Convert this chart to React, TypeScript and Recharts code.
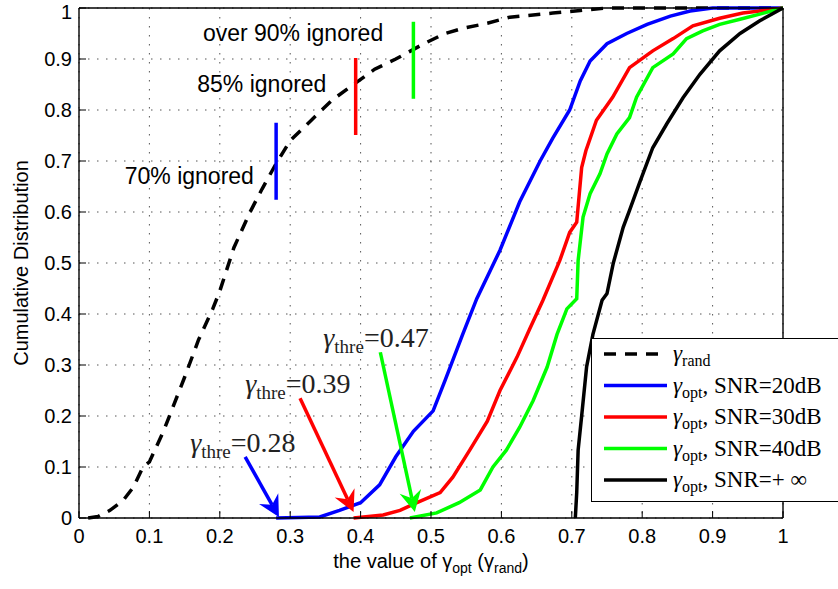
import React from 'react'
import {
  LineChart,
  Line,
  XAxis,
  YAxis,
  CartesianGrid,
  ReferenceLine,
  ReferenceDot,
  Legend,
} from 'recharts'

const SANS = '"Liberation Sans", Arial, Helvetica, sans-serif'
const SERIF = '"Liberation Serif", "Times New Roman", serif'

const xTicks = [0, 0.1, 0.2, 0.3, 0.4, 0.5, 0.6, 0.7, 0.8, 0.9, 1]
const yTicks = [0, 0.1, 0.2, 0.3, 0.4, 0.5, 0.6, 0.7, 0.8, 0.9, 1]

// gamma_rand (dashed)
const randX = [0.013, 0.027, 0.044, 0.063, 0.077, 0.091, 0.1, 0.12, 0.15, 0.17, 0.19, 0.2, 0.22, 0.243, 0.26, 0.28, 0.3, 0.33, 0.36, 0.39, 0.42, 0.45, 0.47, 0.49, 0.52, 0.545, 0.58, 0.612, 0.673, 0.712, 0.75, 1]
const randY = [0, 0.003, 0.015, 0.035, 0.06, 0.1, 0.11, 0.17, 0.276, 0.35, 0.41, 0.445, 0.53, 0.6, 0.645, 0.695, 0.74, 0.78, 0.82, 0.85, 0.88, 0.9, 0.915, 0.93, 0.95, 0.96, 0.97, 0.982, 0.99, 0.995, 1, 1]

// gamma_opt, SNR = 20 dB
const snr20X = [0.28, 0.342, 0.37, 0.4, 0.427, 0.45, 0.475, 0.503, 0.52, 0.545, 0.565, 0.598, 0.626, 0.655, 0.673, 0.697, 0.712, 0.726, 0.75, 0.778, 0.807, 0.84, 0.868, 0.9, 1]
const snr20Y = [0, 0.002, 0.015, 0.03, 0.065, 0.12, 0.17, 0.21, 0.27, 0.36, 0.43, 0.525, 0.62, 0.7, 0.745, 0.8, 0.857, 0.896, 0.93, 0.95, 0.968, 0.984, 0.994, 1, 1]

// gamma_opt, SNR = 30 dB
const snr30X = [0.39, 0.432, 0.456, 0.48, 0.513, 0.531, 0.555, 0.58, 0.598, 0.622, 0.64, 0.659, 0.683, 0.697, 0.707, 0.714, 0.72, 0.735, 0.758, 0.782, 0.815, 0.844, 0.872, 0.91, 0.943, 1]
const snr30Y = [0, 0.006, 0.015, 0.03, 0.05, 0.08, 0.133, 0.19, 0.25, 0.315, 0.37, 0.427, 0.505, 0.56, 0.58, 0.687, 0.72, 0.78, 0.825, 0.883, 0.916, 0.94, 0.965, 0.98, 0.99, 1]

// gamma_opt, SNR = 40 dB
const snr40X = [0.47, 0.508, 0.54, 0.57, 0.588, 0.607, 0.626, 0.645, 0.665, 0.679, 0.693, 0.707, 0.709, 0.716, 0.726, 0.74, 0.75, 0.764, 0.782, 0.792, 0.815, 0.844, 0.863, 0.886, 0.91, 0.939, 0.967, 1]
const snr40Y = [0, 0.01, 0.03, 0.055, 0.1, 0.133, 0.178, 0.23, 0.296, 0.36, 0.41, 0.43, 0.505, 0.59, 0.636, 0.675, 0.714, 0.753, 0.785, 0.825, 0.883, 0.91, 0.94, 0.955, 0.968, 0.978, 0.988, 1]

// gamma_opt, SNR = +inf
const snrInfX = [0.705, 0.707, 0.709, 0.714, 0.721, 0.73, 0.743, 0.75, 0.759, 0.773, 0.782, 0.797, 0.815, 0.835, 0.858, 0.882, 0.91, 0.939, 0.967, 1]
const snrInfY = [0, 0.05, 0.133, 0.2, 0.296, 0.36, 0.427, 0.44, 0.5, 0.57, 0.603, 0.66, 0.726, 0.773, 0.824, 0.87, 0.916, 0.95, 0.975, 1]

// "ignored" markers on the dashed curve
const markerX = [0.28, 0.393, 0.475]
const markerLow = [0.624, 0.751, 0.822]
const markerHigh = [0.775, 0.902, 0.973]
const markerColors = ['#0000ff', '#ff0000', '#00ff00']
const ignoredText = ['70% ignored', '85% ignored', 'over 90% ignored']
const ignoredX = [0.065, 0.168, 0.176]
const ignoredY = [0.654, 0.836, 0.935]

// threshold arrows
const threValues = ['0.28', '0.39', '0.47']
const threLabelX = [0.158, 0.236, 0.347]
const threLabelY = [0.129, 0.245, 0.335]
const arrowFromX = [0.236, 0.314, 0.428]
const arrowFromY = [0.12, 0.235, 0.325]
const arrowToX = [0.284, 0.39, 0.477]
const arrowToY = [0.002, 0.012, 0.012]

const series = [
  { key: 'rand', xs: randX, ys: randY, color: '#000000', dash: '12 9', sub: 'rand', rest: '' },
  { key: 'snr20', xs: snr20X, ys: snr20Y, color: '#0000ff', dash: undefined, sub: 'opt', rest: ', SNR=20dB' },
  { key: 'snr30', xs: snr30X, ys: snr30Y, color: '#ff0000', dash: undefined, sub: 'opt', rest: ', SNR=30dB' },
  { key: 'snr40', xs: snr40X, ys: snr40Y, color: '#00ff00', dash: undefined, sub: 'opt', rest: ', SNR=40dB' },
  { key: 'snrInf', xs: snrInfX, ys: snrInfY, color: '#000000', dash: undefined, sub: 'opt', rest: ', SNR=+ ∞' },
]

const arrowShape = (color: string) => (p: any) => {
  const { x1, y1, x2, y2 } = p
  const dx = x2 - x1
  const dy = y2 - y1
  const len = Math.hypot(dx, dy) || 1
  const ux = dx / len
  const uy = dy / len
  const px = -uy
  const py = ux
  const head = 21
  const half = 11
  const notch = 14
  const bx = x2 - ux * head
  const by = y2 - uy * head
  const nx = x2 - ux * notch
  const ny = y2 - uy * notch
  return (
    <g>
      <line x1={x1} y1={y1} x2={nx} y2={ny} stroke={color} strokeWidth={3.5} />
      <polygon
        points={`${x2},${y2} ${bx + px * half},${by + py * half} ${nx},${ny} ${bx - px * half},${by - py * half}`}
        fill={color}
      />
    </g>
  )
}

const plainText = (text: string) => (p: any) => (
  <text x={p.cx} y={p.cy} fontFamily={SANS} fontSize={23} fill="#000">
    {text}
  </text>
)

const threText = (value: string) => (p: any) => (
  <text x={p.cx} y={p.cy} fontFamily={SERIF} fontSize={28} fill="#222">
    <tspan fontStyle="italic">γ</tspan>
    <tspan fontSize={19} dy={6}>thre</tspan>
    <tspan dy={-6}>={value}</tspan>
  </text>
)

const xLabel = (props: any) => {
  const vb = props.viewBox
  const cx = vb.x + vb.width / 2
  return (
    <text x={cx} y={vb.y + 50} textAnchor="middle" fontFamily={SANS} fontSize={20} fill="#000">
      the value of γ
      <tspan fontSize={14} dy={5}>opt</tspan>
      <tspan dy={-5}> (γ</tspan>
      <tspan fontSize={14} dy={5}>rand</tspan>
      <tspan dy={-5}>)</tspan>
    </text>
  )
}

const yLabel = (props: any) => {
  const vb = props.viewBox
  const x = vb.x + 2
  const y = vb.y + vb.height / 2
  return (
    <text
      x={x}
      y={y}
      transform={`rotate(-90, ${x}, ${y})`}
      textAnchor="middle"
      dominantBaseline="central"
      fontFamily={SANS}
      fontSize={20}
      fill="#000"
    >
      Cumulative Distribution
    </text>
  )
}

function LegendBox() {
  return (
    <svg width={250} height={164} style={{ display: 'block' }}>
      <rect x={0.5} y={0.5} width={262} height={163} fill="#fff" stroke="#000" />
      {series.map((s, i) => {
        const cy = 16 + i * 31.5
        return (
          <g key={s.key}>
            <line x1={13} x2={76} y1={cy} y2={cy} stroke={s.color} strokeWidth={3.5} strokeDasharray={s.dash} />
            <text x={82} y={cy + 7} fontFamily={SERIF} fontSize={23} fill="#000">
              <tspan fontStyle="italic">γ</tspan>
              <tspan fontSize={16} dy={5}>{s.sub}</tspan>
              <tspan dy={-5}>{s.rest}</tspan>
            </text>
          </g>
        )
      })}
    </svg>
  )
}

const tickStyle = { fill: '#000', fontSize: 20, fontFamily: SANS }
const fmt = (v: number) => String(v)
const blank = () => ''

export default function App() {
  return (
    <div style={{ position: 'absolute', left: 0, top: 0, width: 838, height: 589, overflow: 'hidden', background: '#fff' }}>
      <LineChart width={838} height={589} margin={{ top: 7, right: 54, bottom: 11, left: 19 }}>
        <CartesianGrid stroke="#555" strokeDasharray="1.5 7.5" />
        <XAxis
          dataKey="x"
          type="number"
          domain={[0, 1]}
          ticks={xTicks}
          tickFormatter={fmt}
          height={60}
          tick={tickStyle}
          tickSize={-7}
          tickMargin={18}
          stroke="#000"
          axisLine={{ stroke: '#000', strokeWidth: 1.4 }}
          tickLine={{ stroke: '#000' }}
          label={{ content: xLabel }}
        />
        <XAxis
          xAxisId="top"
          orientation="top"
          type="number"
          domain={[0, 1]}
          ticks={xTicks}
          tickFormatter={blank}
          height={1}
          tickSize={-7}
          stroke="#000"
          axisLine={{ stroke: '#000', strokeWidth: 1.4 }}
          tickLine={{ stroke: '#000' }}
        />
        <YAxis
          type="number"
          domain={[0, 1]}
          ticks={yTicks}
          tickFormatter={fmt}
          width={60}
          tick={tickStyle}
          tickSize={-7}
          tickMargin={14}
          stroke="#000"
          axisLine={{ stroke: '#000', strokeWidth: 1.4 }}
          tickLine={{ stroke: '#000' }}
          label={{ content: yLabel }}
        />
        <YAxis
          yAxisId="right"
          orientation="right"
          type="number"
          domain={[0, 1]}
          ticks={yTicks}
          tickFormatter={blank}
          width={1}
          tickSize={-7}
          stroke="#000"
          axisLine={{ stroke: '#000', strokeWidth: 1.4 }}
          tickLine={{ stroke: '#000' }}
        />
        {series.map((s) => (
          <Line
            key={s.key}
            name={s.key}
            data={s.xs.map((x, i) => ({ x, y: s.ys[i] }))}
            dataKey="y"
            type="linear"
            stroke={s.color}
            strokeWidth={3.5}
            strokeDasharray={s.dash}
            dot={false}
            activeDot={false}
            isAnimationActive={false}
          />
        ))}
        {markerX.map((x, i) => (
          <ReferenceLine
            key={'m' + i}
            segment={[{ x, y: markerLow[i] }, { x, y: markerHigh[i] }]}
            stroke={markerColors[i]}
            strokeWidth={3.5}
            ifOverflow="visible"
          />
        ))}
        {ignoredText.map((t, i) => (
          <ReferenceDot key={'t' + i} x={ignoredX[i]} y={ignoredY[i]} r={0} ifOverflow="visible" shape={plainText(t)} />
        ))}
        {threValues.map((v, i) => (
          <ReferenceLine
            key={'a' + i}
            segment={[{ x: arrowFromX[i], y: arrowFromY[i] }, { x: arrowToX[i], y: arrowToY[i] }]}
            ifOverflow="visible"
            shape={arrowShape(markerColors[i])}
          />
        ))}
        {threValues.map((v, i) => (
          <ReferenceDot key={'g' + i} x={threLabelX[i]} y={threLabelY[i]} r={0} ifOverflow="visible" shape={threText(v)} />
        ))}
        <Legend
          layout="horizontal"
          verticalAlign="middle"
          align="center"
          width={250}
          height={164}
          wrapperStyle={{ left: 591, top: 338 }}
          content={() => <LegendBox />}
        />
      </LineChart>
    </div>
  )
}
